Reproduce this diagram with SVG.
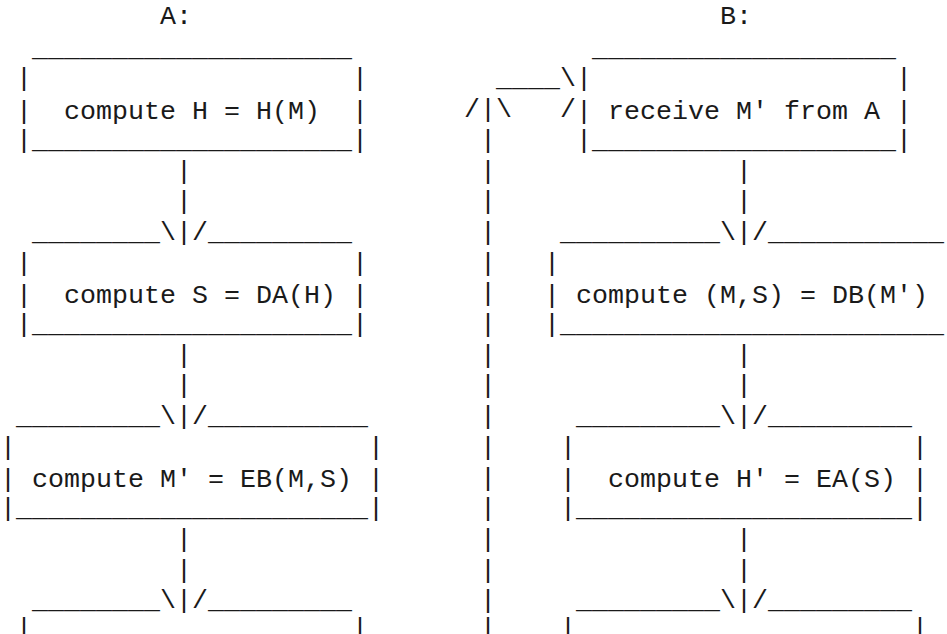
<svg xmlns="http://www.w3.org/2000/svg" width="947" height="634" viewBox="0 0 947 634" xml:space="preserve">
<style>
text{font-family:"Liberation Mono","Courier New",monospace;font-size:26.67px;fill:#1a1a1a;white-space:pre}
</style>
<rect width="947" height="634" fill="#fff"/>
<g id="labels">
<text x="160" y="24">A:</text>
<text x="720" y="24">B:</text>
</g>
<g id="nodeA1">
<text x="32" y="55.7">____________________</text>
<text x="16" y="86.4">|                    |</text>
<text x="16" y="118.5">|  compute H = H(M)  |</text>
<text x="16" y="147.8">|____________________|</text>
</g>
<g id="nodeA2">
<text x="32" y="239.9">________</text>
<text x="208" y="239.9">_________</text>
<text x="16" y="270.6">|                    |</text>
<text x="16" y="302.7">|  compute S = DA(H) |</text>
<text x="16" y="332">|____________________|</text>
</g>
<g id="nodeA3">
<text x="16" y="424.1">_________</text>
<text x="208" y="424.1">__________</text>
<text x="0" y="454.8">|                      |</text>
<text x="0" y="486.9">| compute M' = EB(M,S) |</text>
<text x="0" y="516.2">|______________________|</text>
</g>
<g id="nodeA4">
<text x="32" y="608.3">________</text>
<text x="208" y="608.3">_________</text>
<text x="16" y="636">|                    |</text>
</g>
<g id="nodeB1">
<text x="592" y="55.7">___________________</text>
<text x="576" y="86.4">|                   |</text>
<text x="576" y="118.5">| receive M' from A |</text>
<text x="576" y="147.8">|___________________|</text>
</g>
<g id="nodeB2">
<text x="560" y="239.9">__________</text>
<text x="768" y="239.9">___________</text>
<text x="544" y="270.6">|</text>
<text x="544" y="302.7">| compute (M,S) = DB(M')</text>
<text x="544" y="332">|________________________</text>
</g>
<g id="nodeB3">
<text x="576" y="424.1">_________</text>
<text x="768" y="424.1">_________</text>
<text x="560" y="454.8">|                     |</text>
<text x="560" y="486.9">|  compute H' = EA(S) |</text>
<text x="560" y="516.2">|_____________________|</text>
</g>
<g id="nodeB4">
<text x="576" y="608.3">_________</text>
<text x="768" y="608.3">_________</text>
<text x="560" y="636">|                     |</text>
</g>
<g id="connectors">
<text x="176" y="178.5">|</text>
<text x="176" y="209.2">|</text>
<text x="160" y="239.9">\|/</text>
<text x="176" y="362.7">|</text>
<text x="176" y="393.4">|</text>
<text x="160" y="424.1">\|/</text>
<text x="176" y="546.9">|</text>
<text x="176" y="577.6">|</text>
<text x="160" y="608.3">\|/</text>
<text x="736" y="178.5">|</text>
<text x="736" y="209.2">|</text>
<text x="720" y="239.9">\|/</text>
<text x="736" y="362.7">|</text>
<text x="736" y="393.4">|</text>
<text x="720" y="424.1">\|/</text>
<text x="736" y="546.9">|</text>
<text x="736" y="577.6">|</text>
<text x="720" y="608.3">\|/</text>
<text x="496" y="86.4">____\</text>
<text x="464" y="117.1">/|\   /</text>
<text x="480" y="147.8">|</text>
<text x="480" y="178.5">|</text>
<text x="480" y="209.2">|</text>
<text x="480" y="239.9">|</text>
<text x="480" y="270.6">|</text>
<text x="480" y="301.3">|</text>
<text x="480" y="332">|</text>
<text x="480" y="362.7">|</text>
<text x="480" y="393.4">|</text>
<text x="480" y="424.1">|</text>
<text x="480" y="454.8">|</text>
<text x="480" y="485.5">|</text>
<text x="480" y="516.2">|</text>
<text x="480" y="546.9">|</text>
<text x="480" y="577.6">|</text>
<text x="480" y="608.3">|</text>
<text x="480" y="636">|</text>
</g>
</svg>
